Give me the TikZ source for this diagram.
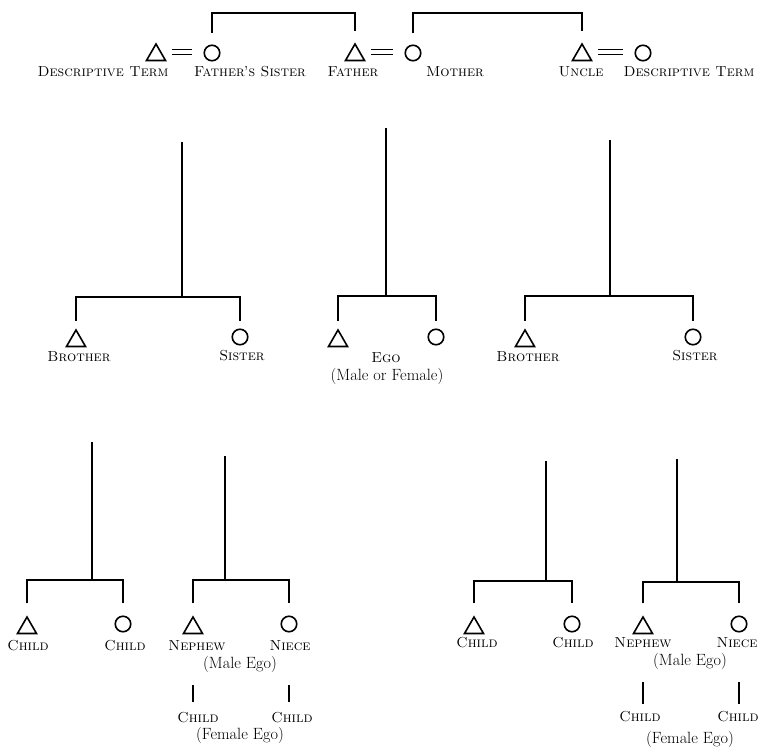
\documentclass[tikz,border=0pt]{standalone}
\usetikzlibrary{shapes.geometric}

\begin{document}
\begin{tikzpicture}[x=1pt,y=-1pt,line width=1.2pt,font=\fontsize{14.5}{17}\selectfont]
    \tikzstyle{male}=[draw,regular polygon,regular polygon sides=3,minimum size=22pt,inner sep=0pt,line width=1.6pt]
    \tikzstyle{female}=[draw,circle,minimum size=15.5pt,inner sep=0pt,line width=1.6pt]
    \tikzstyle{term}=[font=\fontsize{14.5}{17}\selectfont\scshape,inner sep=0pt,anchor=base]
    \tikzstyle{note}=[font=\fontsize{16.3}{19}\selectfont,inner sep=0pt,anchor=base]
    \tikzstyle{wed}=[double,double distance=3.5pt,line width=1.3pt,shorten <=9pt,shorten >=11pt]
    \tikzset{kin/.style={shorten <=#1,shorten >=#1}}

    \useasboundingbox (0,0) rectangle (762,747);

    % parents' generation
    \node[male] (dt1) at (156,55) {};
    \node[female] (fs) at (212,53) {};
    \node[male] (fa) at (355,55) {};
    \node[female] (mo) at (413,53) {};
    \node[male] (un) at (582,55) {};
    \node[female] (dt2) at (643,53) {};

    \draw[wed] ([yshift=3pt]dt1.east) -- ([yshift=3pt]dt1.east -| fs.west);
    \draw[wed] ([yshift=3pt]fa.east) -- ([yshift=3pt]fa.east -| mo.west);
    \draw[wed] ([yshift=3pt]un.east) -- ([yshift=3pt]un.east -| dt2.west);

    \draw[kin=11pt] (fs) -- ++(0,-40) -| (fa);
    \draw[kin=11pt] (mo) -- ++(0,-40) -| (un);

    \node[term] (l-dt1) at (103,76) {Descriptive Term};
    \node[term] (l-fs) at (250,76) {Father's Sister};
    \node[term] (l-fa) at (353,76) {Father};
    \node[term] (l-mo) at (455,76) {Mother};
    \node[term] (l-un) at (581,76) {Uncle};
    \node[term] (l-dt2) at (689,76) {Descriptive Term};

    % ego's generation
    \node[male] (bro1) at (76,341) {};
    \node[female] (sis1) at (240,337) {};
    \node[male] (egom) at (338,341) {};
    \node[female] (egof) at (436,337) {};
    \node[male] (bro2) at (525,341) {};
    \node[female] (sis2) at (693,337) {};

    \coordinate (tA) at (182,142);  \coordinate (jA) at (182,297);
    \coordinate (tB) at (386,128);  \coordinate (jB) at (386,296);
    \coordinate (tC) at (610,140);  \coordinate (jC) at (610,296);
    \foreach \s in {A,B,C}
        \draw (t\s) -- (j\s);

    \draw[kin=7.5pt] (bro1) |- (jA) -| (sis1);
    \draw[kin=7.5pt] (egom) |- (jB) -| (egof);
    \draw[kin=7.5pt] (bro2) |- (jC) -| (sis2);

    \node[term] (l-bro1) at (79,361) {Brother};
    \node[term] (l-sis1) at (242,360) {Sister};
    \node[term] (l-ego) at (386,362) {Ego};
    \node[note] (l-mf) at (387,380) {(Male or Female)};
    \node[term] (l-bro2) at (528,361) {Brother};
    \node[term] (l-sis2) at (695,360) {Sister};

    % children's generation
    \node[male] (ch1) at (27,628) {};
    \node[female] (ch2) at (123,624) {};
    \node[male] (ne1) at (193,628) {};
    \node[female] (ni1) at (289,624) {};
    \node[male] (ch3) at (474,628) {};
    \node[female] (ch4) at (572,624) {};
    \node[male] (ne2) at (643,628) {};
    \node[female] (ni2) at (739,624) {};

    \coordinate (tD) at (92,442);   \coordinate (jD) at (92,580);
    \coordinate (tE) at (225,456);  \coordinate (jE) at (225,580);
    \coordinate (tF) at (546,461);  \coordinate (jF) at (546,581);
    \coordinate (tG) at (677,459);  \coordinate (jG) at (677,582);
    \foreach \s in {D,E,F,G}
        \draw (t\s) -- (j\s);

    \draw[kin=12pt] (ch1) |- (jD) -| (ch2);
    \draw[kin=12pt] (ne1) |- (jE) -| (ni1);
    \draw[kin=12pt] (ch3) |- (jF) -| (ch4);
    \draw[kin=12pt] (ne2) |- (jG) -| (ni2);

    \node[term] (l-ch1) at (28,650) {Child};
    \node[term] (l-ch2) at (125,650) {Child};
    \node[term] (l-ne1) at (197,650) {Nephew};
    \node[term] (l-ni1) at (290,650) {Niece};
    \node[note] (l-me1) at (240,668) {(Male Ego)};
    \node[term] (l-gc1) at (198,722) {Child};
    \node[term] (l-gc2) at (292,722) {Child};
    \node[note] (l-fe1) at (240,739) {(Female Ego)};

    \node[term] (l-ch3) at (477,647) {Child};
    \node[term] (l-ch4) at (573,647) {Child};
    \node[term] (l-ne2) at (643,647) {Nephew};
    \node[term] (l-ni2) at (737,647) {Niece};
    \node[note] (l-me2) at (690,665) {(Male Ego)};
    \node[term] (l-gc3) at (640,721) {Child};
    \node[term] (l-gc4) at (738,721) {Child};
    \node[note] (l-fe2) at (690,743) {(Female Ego)};

    \draw ([yshift=9pt]l-gc1.north -| ne1) -- ++(0,-17);
    \draw ([yshift=9pt]l-gc2.north -| ni1) -- ++(0,-17);
    \draw ([yshift=6pt]l-gc3.north -| ne2) -- ++(0,-22);
    \draw ([yshift=6pt]l-gc4.north -| ni2) -- ++(0,-22);
\end{tikzpicture}
\end{document}
